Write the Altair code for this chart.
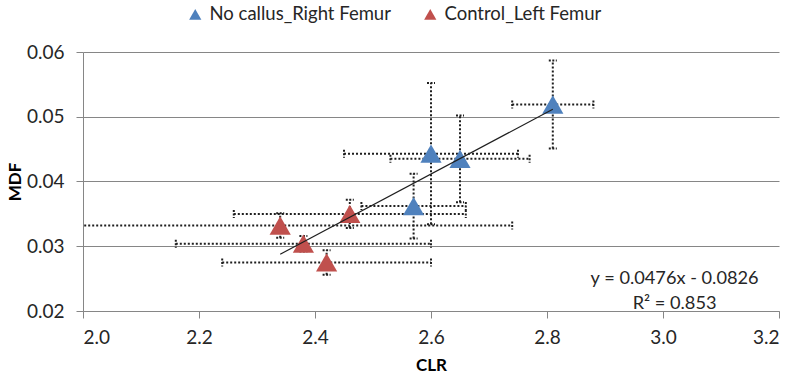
import altair as alt
import pandas as pd

# ---- data ----
groups = ["No callus_Right Femur"] * 4 + ["Control_Left Femur"] * 4
clr = [2.81, 2.60, 2.65, 2.57, 2.34, 2.38, 2.42, 2.46]
mdf = [0.0519, 0.0443, 0.0435, 0.0362, 0.0332, 0.0304, 0.0275, 0.0350]
clr_err = [0.07, 0.15, 0.12, 0.09, 0.40, 0.22, 0.18, 0.20]
mdf_err = [0.0068, 0.0109, 0.0067, 0.0050, 0.0019, 0.0012, 0.0019, 0.0022]

series_names = ["No callus_Right Femur", "Control_Left Femur"]
series_colors = ["#4F81BD", "#C0504D"]

eq_lines = ["y = 0.0476x - 0.0826", "R² = 0.853"]
eq_pos_x = [3.02]
eq_pos_y = [0.0250]

x_ticks = [2.0, 2.2, 2.4, 2.6, 2.8, 3.0, 3.2]
y_ticks = [0.02, 0.03, 0.04, 0.05, 0.06]

df = pd.DataFrame({"group": groups, "clr": clr, "mdf": mdf,
                   "clr_err": clr_err, "mdf_err": mdf_err})
df["x_lo"] = df["clr"] - df["clr_err"]
df["x_hi"] = df["clr"] + df["clr_err"]
df["y_lo"] = df["mdf"] - df["mdf_err"]
df["y_hi"] = df["mdf"] + df["mdf_err"]

hcaps = pd.DataFrame({"cx": list(df["x_lo"]) + list(df["x_hi"]),
                      "cy": list(df["mdf"]) * 2})
vcaps = pd.DataFrame({"cx": list(df["clr"]) * 2,
                      "cy": list(df["y_lo"]) + list(df["y_hi"])})
eq_df = pd.DataFrame({"x": eq_pos_x, "y": eq_pos_y, "t": [eq_lines]})

FONT = "Lato"
xscale = alt.Scale(domain=[2.0, 3.2], nice=False, zero=False)
yscale = alt.Scale(domain=[0.02, 0.06], nice=False, zero=False)
xaxis = alt.Axis(values=x_ticks, format=".1f", grid=False, title="CLR",
                 titleX=348, titleY=54, titleBaseline="middle")
yaxis = alt.Axis(values=y_ticks, format=".2f", grid=True, title="MDF",
                 titleX=-68, titleBaseline="middle", titleAngle=-90)


def X(f):
    return alt.X(f, type="quantitative", scale=xscale, axis=xaxis)


def Y(f):
    return alt.Y(f, type="quantitative", scale=yscale, axis=yaxis)


ERR = dict(strokeDash=[2, 2], strokeWidth=2, color="#1f1f1f", clip=True)

hbars = alt.Chart(df).mark_rule(**ERR).encode(x=X("x_lo"), x2="x_hi", y=Y("mdf"))
vbars = alt.Chart(df).mark_rule(**ERR).encode(x=X("clr"), y=Y("y_lo"), y2="y_hi")

hcap_layer = alt.Chart(hcaps).mark_point(
    shape="M0,-1L0,1", size=64, filled=False, strokeWidth=2,
    strokeDash=[2, 1.5], color="#1f1f1f", opacity=1, clip=True
).encode(x=X("cx"), y=Y("cy"))
vcap_layer = alt.Chart(vcaps).mark_point(
    shape="M-1,0L1,0", size=64, filled=False, strokeWidth=2,
    strokeDash=[2, 1.5], color="#1f1f1f", opacity=1, clip=True
).encode(x=X("cx"), y=Y("cy"))

pts = alt.Chart(df).mark_point(
    shape="triangle-up", filled=True, size=450, opacity=1
).encode(
    x=X("clr"), y=Y("mdf"),
    color=alt.Color("group:N",
                    scale=alt.Scale(domain=series_names, range=series_colors),
                    legend=alt.Legend(title=None, orient="none", direction="horizontal",
                                      legendX=103, legendY=-47, symbolType="triangle-up",
                                      symbolSize=150, labelFontSize=18.5, labelFont=FONT,
                                      labelColor="#262626", columnPadding=30,
                                      labelOffset=5, padding=0, labelLimit=0)),
)

trend = alt.Chart(df).transform_regression("clr", "mdf").mark_line(
    color="#1f1f1f", strokeWidth=1.2
).encode(x=X("clr"), y=Y("mdf"))

eq_text = alt.Chart(eq_df).mark_text(
    font=FONT, fontSize=18.2, color="#262626", align="center",
    baseline="middle", lineHeight=25
).encode(x=X("x"), y=Y("y"), text="t")

chart = alt.layer(hbars, vbars, hcap_layer, vcap_layer, pts, trend, eq_text).properties(
    width=696, height=259,
    autosize=alt.AutoSizeParams(type="none"),
    padding={"left": 83, "top": 52, "right": 16, "bottom": 66},
    background="white",
).configure_view(stroke=None).configure_axis(
    domainColor="#868686", tickColor="#868686", gridColor="#868686",
    gridWidth=1, domainWidth=1, tickSize=7,
    labelFont=FONT, labelFontSize=19, labelColor="#262626",
    titleFont=FONT, titleFontSize=17, titleFontWeight="bold", titleColor="#000000",
).configure_axisY(labelPadding=12).configure_axisX(labelPadding=10)

chart.save("out.html", embed_options={"renderer": "svg", "actions": False})
